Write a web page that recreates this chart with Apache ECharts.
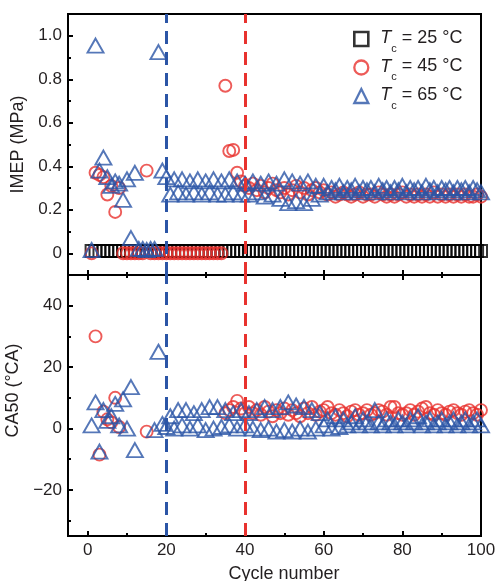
<!DOCTYPE html>
<html><head><meta charset="utf-8">
<script src="https://cdn.jsdelivr.net/npm/echarts@6/dist/echarts.min.js"></script>
<style>html,body{margin:0;padding:0;background:#fff}#c{width:499px;height:581px}</style>
</head><body><div id="c"></div>
<script>
// ---------------- data ----------------
const cycles = [1,2,3,4,5,6,7,8,9,10,11,12,13,14,15,16,17,18,19,20,
  21,22,23,24,25,26,27,28,29,30,31,32,33,34,35,36,37,38,39,40,
  41,42,43,44,45,46,47,48,49,50,51,52,53,54,55,56,57,58,59,60,
  61,62,63,64,65,66,67,68,69,70,71,72,73,74,75,76,77,78,79,80,
  81,82,83,84,85,86,87,88,89,90,91,92,93,94,95,96,97,98,99,100];

const xMajorTicks = [0,20,40,60,80,100];
const xMinorTicks = [10,30,50,70,90];
const imepMajorTicks = [0,0.2,0.4,0.6,0.8,1.0];
const imepMinorTicks = [0.1,0.3,0.5,0.7,0.9];
const ca50MajorTicks = [-20,0,20,40];
const ca50MinorTicks = [-30,-10,10,30];
const guideCycles = [20, 40];

const legendTemps = ['25','45','65'];
const seriesNames = ['Tc = 25 °C','Tc = 45 °C','Tc = 65 °C'];

// IMEP (MPa)
const imep25 = [0.01,0.01,0.01,0.01,0.01,0.01,0.01,0.01,0.01,0.01,0.01,0.01,0.01,0.01,0.01,0.01,0.01,0.01,0.01,0.01,
  0.01,0.01,0.01,0.01,0.01,0.01,0.01,0.01,0.01,0.01,0.01,0.01,0.01,0.01,0.01,0.01,0.01,0.01,0.01,0.01,
  0.01,0.01,0.01,0.01,0.01,0.01,0.01,0.01,0.01,0.01,0.01,0.01,0.01,0.01,0.01,0.01,0.01,0.01,0.01,0.01,
  0.01,0.01,0.01,0.01,0.01,0.01,0.01,0.01,0.01,0.01,0.01,0.01,0.01,0.01,0.01,0.01,0.01,0.01,0.01,0.01,
  0.01,0.01,0.01,0.01,0.01,0.01,0.01,0.01,0.01,0.01,0.01,0.01,0.01,0.01,0.01,0.01,0.01,0.01,0.01,0.01];

const imep45 = [0,0.37,0.36,0.35,0.27,0.31,0.19,0.30,0,0,0,0,0,0,0.38,0,0,0,0,0,
  0,0,0,0,0,0,0,0,0,0,0,0,0,0,0.77,0.47,0.475,0.37,0.33,0.31,
  0.30,0.32,0.29,0.31,0.28,0.30,0.32,0.29,0.28,0.30,0.27,0.29,0.31,0.28,0.30,0.27,0.29,0.30,0.28,0.29,
  0.27,0.28,0.26,0.27,0.28,0.27,0.26,0.27,0.28,0.26,0.27,0.27,0.26,0.28,0.27,0.26,0.27,0.26,0.27,0.28,
  0.26,0.27,0.26,0.27,0.26,0.27,0.26,0.28,0.26,0.27,0.26,0.27,0.26,0.27,0.26,0.27,0.26,0.26,0.27,0.26];

const imep65 = [0.015,0.955,0.38,0.44,0.35,0.31,0.33,0.32,0.245,0.34,0.07,0.37,0.02,0.02,0.015,0.02,0.02,0.925,0.38,0.35,
  0.27,0.34,0.28,0.34,0.27,0.33,0.28,0.34,0.27,0.33,0.28,0.34,0.27,0.33,0.27,0.34,0.28,0.33,0.27,0.32,
  0.27,0.33,0.28,0.32,0.26,0.33,0.27,0.32,0.25,0.34,0.23,0.33,0.24,0.32,0.23,0.33,0.25,0.31,0.27,0.31,
  0.28,0.30,0.29,0.31,0.28,0.30,0.29,0.31,0.28,0.30,0.29,0.30,0.28,0.31,0.29,0.30,0.28,0.30,0.29,0.31,
  0.28,0.30,0.29,0.30,0.28,0.31,0.29,0.30,0.28,0.30,0.29,0.30,0.28,0.30,0.29,0.30,0.28,0.30,0.29,0.28];

// CA50 (°CA), null = no combustion
const ca50_45 = [null,30,-8.5,5.5,3,2,10,0.5,null,null,null,null,null,null,-1,null,null,null,null,null,
  null,null,null,null,null,null,null,null,null,null,null,null,null,null,5,6,7,9,6.5,5,
  7,5,6,4.5,7,5.5,4,6,5,6.5,4.5,6,5,4,6.5,5,7,4.5,5.5,6,
  7,5,4.5,6,5,4,5.5,6,4.5,5,6,4.5,5,6,5.5,4.5,7,7,5,4.5,
  5,6,4.5,5.5,6.5,7,5,4.5,6,5,4.5,5.5,6,5,4.5,5.5,6,5,4.5,6];

const ca50_65 = [1,8.5,-7.5,6,2.5,4,8,1,9.5,0,13.5,-7,null,null,null,null,-0.5,25,1.5,0.5,
  4,0,6,1,6,0,5,1,6,-0.5,7,0,7,0.5,6,1,5,0,6,1,
  5,0,6,-0.5,7,0,6,-1,7,-0.5,8.5,-1,7.5,0,7,-1,6,0,5,1,
  3,0,4,0.5,3,1,2,4,1,3,2,1,6,2,1,3,2,1,3,2,
  1,3,2,4,1,2,3,1,2,3,1,2,3,1,2,3,1,2,3,1];

// ---------------- chart ----------------
const FONT = 'Liberation Sans, Arial, Helvetica, sans-serif';
const TXT = '#231f20';
const RED = '#e8322e';
const BLUE = '#2b55a6';
const BLACK = '#000000';

function pairs(vals){ const out=[]; vals.forEach((v,i)=>{ if(v!==null) out.push([cycles[i], v]); }); return out; }

function xAxis(grid, position, ticks, len, lineShow, labelShow, extra){
  return Object.assign({
    type:'value', gridIndex:grid, position:position, min:-5, max:100,
    axisLine:{show:lineShow, onZero:false, lineStyle:{color:'#000', width:2}},
    axisTick:{show:true, inside:true, length:len, lineStyle:{color:'#000', width:2}, customValues:ticks},
    axisLabel:{show:labelShow, customValues:ticks, margin:6, fontSize:17, color:TXT, fontFamily:FONT},
    splitLine:{show:false}
  }, extra||{});
}
function yAxis(grid, min, max, ticks, len, lineShow, labelShow, fmt, extra){
  return Object.assign({
    type:'value', gridIndex:grid, position:'left', min:min, max:max,
    axisLine:{show:lineShow, onZero:false, lineStyle:{color:'#000', width:2}},
    axisTick:{show:true, inside:true, length:len, lineStyle:{color:'#000', width:2}, customValues:ticks},
    axisLabel:{show:labelShow, customValues:ticks, margin:6, fontSize:17, color:TXT, fontFamily:FONT, formatter:fmt},
    splitLine:{show:false}
  }, extra||{});
}
const fmtImep = v => (Math.abs(v) < 1e-9 ? '0' : v.toFixed(1));
const fmtCa = v => (v < 0 ? '\u2212' + Math.abs(v) : String(v));

const guideLines = {
  silent:true, symbol:'none', label:{show:false}, animation:false,
  data: guideCycles.map((c,i)=>({xAxis:c, lineStyle:{color: i===0 ? BLUE : RED, width:3, type:[13,8]}}))
};

function marker(color, bw){ return {color:'rgba(0,0,0,0)', borderColor:color, borderWidth:bw}; }

const option = {
  animation:false,
  backgroundColor:'#ffffff',
  grid:[
    {left:68, right:18, top:14, height:261, outerBoundsMode:'none', containLabel:false, show:true, borderColor:'#000', borderWidth:2, backgroundColor:'transparent'},
    {left:68, right:18, top:275, height:261, outerBoundsMode:'none', containLabel:false, show:true, borderColor:'#000', borderWidth:2, backgroundColor:'transparent'}
  ],
  xAxis:[
    xAxis(0,'bottom',xMajorTicks,5,true,false),
    xAxis(0,'bottom',xMinorTicks,3,false,false),
    xAxis(1,'bottom',xMajorTicks,5,true,true,{name:'Cycle number', nameLocation:'middle', nameGap:29,
      nameTextStyle:{fontSize:18, color:TXT, fontFamily:FONT, padding:[0,0,0,19]}}),
    xAxis(1,'bottom',xMinorTicks,3,false,false),
    xAxis(1,'top',xMajorTicks,5,true,false),
    xAxis(1,'top',xMinorTicks,3,false,false)
  ],
  yAxis:[
    yAxis(0,-0.1,1.1,imepMajorTicks,5,true,true,fmtImep,{name:'IMEP (MPa)', nameLocation:'middle', nameRotate:90, nameGap:39,
      nameTextStyle:{fontSize:18, color:TXT, fontFamily:FONT}}),
    yAxis(0,-0.1,1.1,imepMinorTicks,3,false,false,fmtImep),
    yAxis(1,-35,50,ca50MajorTicks,5,true,true,fmtCa,{name:'CA50 (°CA)', nameLocation:'middle', nameRotate:90, nameGap:39,
      nameTextStyle:{fontSize:18, color:TXT, fontFamily:FONT, padding:[0,0,0,30]}}),
    yAxis(1,-35,50,ca50MinorTicks,3,false,false,fmtCa)
  ],
  legend:{
    orient:'vertical', left:353, top:29, padding:0, itemGap:3.5, itemWidth:14, itemHeight:14,
    selectedMode:false,
    data:[
      {name:seriesNames[0], itemStyle:{borderWidth:2.6}},
      {name:seriesNames[1], itemStyle:{borderWidth:2.3}},
      {name:seriesNames[2], itemStyle:{borderWidth:2.3}}
    ],
    formatter: name => '{i|T}{s|c}{t| = ' + legendTemps[seriesNames.indexOf(name)] + ' °C}',
    textStyle:{
      fontFamily:FONT, color:TXT, fontSize:18,
      rich:{
        i:{fontStyle:'italic', fontSize:18, lineHeight:20, verticalAlign:'top', fontFamily:FONT, color:TXT, padding:[0,0,0,7]},
        s:{fontSize:11, lineHeight:11, verticalAlign:'top', fontFamily:FONT, color:TXT, padding:[14,0,0,0]},
        t:{fontSize:18, lineHeight:20, verticalAlign:'top', fontFamily:FONT, color:TXT}
      }
    }
  },
  series:[
    {name:seriesNames[0], type:'scatter', xAxisIndex:0, yAxisIndex:0, symbol:'rect', symbolSize:12,
      itemStyle:marker(BLACK,2), data:pairs(imep25)},
    {name:seriesNames[1], type:'scatter', xAxisIndex:0, yAxisIndex:0, symbol:'circle', symbolSize:12,
      itemStyle:marker(RED,1.9), data:pairs(imep45)},
    {name:seriesNames[2], type:'scatter', xAxisIndex:0, yAxisIndex:0, symbol:'triangle', symbolSize:[16,14],
      itemStyle:marker(BLUE,1.9), data:pairs(imep65), markLine:guideLines},
    {name:seriesNames[1], type:'scatter', xAxisIndex:2, yAxisIndex:2, symbol:'circle', symbolSize:12,
      itemStyle:marker(RED,1.9), data:pairs(ca50_45)},
    {name:seriesNames[2], type:'scatter', xAxisIndex:2, yAxisIndex:2, symbol:'triangle', symbolSize:[16,14],
      itemStyle:marker(BLUE,1.9), data:pairs(ca50_65), markLine:guideLines}
  ]
};
const chart = echarts.init(document.getElementById('c'), null, {renderer:'canvas'});
chart.setOption(option);
</script></body></html>
